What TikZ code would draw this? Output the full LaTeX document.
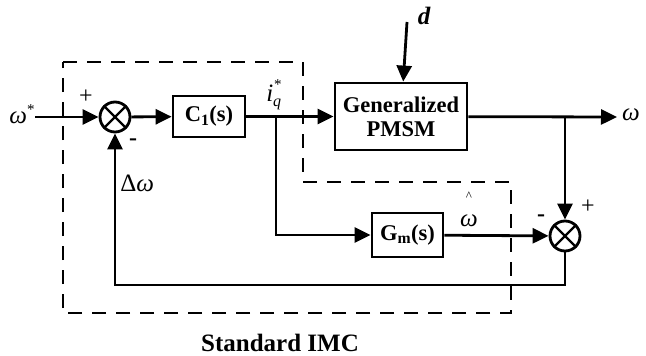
\documentclass[tikz,border=0pt]{standalone}
\usepackage{fontspec}
\setmainfont{Liberation Serif}
\usetikzlibrary{arrows.meta}
\begin{document}
\begin{tikzpicture}[x=1pt,y=-1pt,
  line width=2.8pt,
  arr/.style={-{Triangle[length=16pt,width=15pt]}},
  blk/.style={draw,line width=2.8pt,minimum width=#1,inner sep=0pt,font=\fontsize{22.5}{24}\selectfont\bfseries,align=center},
  sumj/.style={draw,circle,line width=2.8pt,minimum size=30pt,inner sep=0pt},
  lbl/.style={inner sep=0pt,font=\fontsize{25}{27}\selectfont},
  sgn/.style={inner sep=0pt,font=\fontsize{24}{26}\selectfont},
  imc/.style={dashed,dash pattern=on 14pt off 10pt,line width=2.8pt}]
\useasboundingbox (0,0) rectangle (646,356);
% dashed boundary
\draw[imc] (63,62) -- (303,62) -- (303,182) -- (511,182) -- (511,313) -- (63,313) -- cycle;
% blocks
\node[sumj] (s1) at (115,117) {};
\draw[line width=2.4pt] (s1.45) -- (s1.225) (s1.135) -- (s1.315);
\node[blk=72pt,minimum height=41pt] (c1) at (209,116.5) {C\textsubscript{1}(s)};
\node[blk=132pt,minimum height=67pt] (pm) at (401,116.5) {Generalized\\PMSM};
\node[blk=71pt,minimum height=44pt] (gm) at (407.5,235) {G\textsubscript{m}(s)};
\node[sumj] (s2) at (565,236) {};
\draw[line width=2.4pt] (s2.45) -- (s2.225) (s2.135) -- (s2.315);
% coordinates
\coordinate (in) at (35,117);
\coordinate (out) at (617,117);
\coordinate (b1) at (276,117);
\coordinate (b2) at (565,117);
\coordinate (dtop) at (407,22);
\coordinate (f1) at (565,285);
\coordinate (f2) at (115,285);
% connectors
\draw[arr] (in) -- (s1);
\draw[arr] (s1) -- (c1);
\draw[arr] (c1) -- (pm);
\draw[arr] (pm) -- (out);
\draw[arr] (dtop) -- (pm);
\draw[arr] (b1) |- (gm);
\draw[arr] (gm) -- (s2);
\draw[arr] (b2) -- (s2);
\draw[arr] (s2) -- (f1) -- (f2) -- (s1);
% labels
\node[lbl] (win) at (22,114) {\textit{ω}\raisebox{9pt}{\fontsize{15}{15}\selectfont*}};
\node[sgn] (p1) at (86,97) {+};
\node[sgn,font=\fontsize{24}{26}\selectfont\bfseries] (m1) at (133,142) {-};
\node[lbl,anchor=west] (dw) at (119,183) {Δ\textit{ω}};
\node[lbl] (iq) at (274,95) {\textit{i}\raisebox{-5pt}{\fontsize{16}{16}\selectfont\textit{q}}\kern-7pt\raisebox{12pt}{\fontsize{15}{15}\selectfont*}};
\node[lbl,font=\fontsize{25}{27}\selectfont\bfseries\itshape] (dl) at (424,16) {d};
\node[lbl] (wo) at (631,115) {\textit{ω}};
\node[lbl,align=center] (wh) at (469,209) {{\fontsize{13}{13}\selectfont\^{}}\\[-1pt]\textit{ω}};
\node[sgn,font=\fontsize{24}{26}\selectfont\bfseries] (m2) at (541,218) {-};
\node[sgn] (p2) at (588,207) {+};
\node[lbl,font=\fontsize{25}{27}\selectfont\bfseries] (std) at (280,343) {Standard IMC};
\end{tikzpicture}
\end{document}
